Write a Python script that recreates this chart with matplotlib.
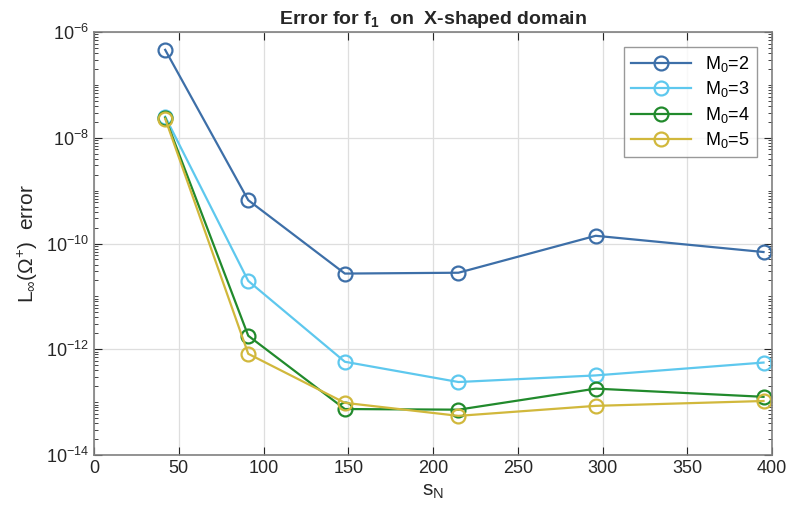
import numpy as np
import matplotlib
matplotlib.use("Agg")
import matplotlib.pyplot as plt
from matplotlib.ticker import LogLocator, NullFormatter

plt.rcParams['font.family'] = ['Liberation Sans', 'DejaVu Sans']
plt.rcParams['mathtext.default'] = 'regular'

sN = [42, 91, 148, 215, 296, 395]
err_m2 = [4.6e-7, 6.6e-10, 2.7e-11, 2.8e-11, 1.4e-10, 6.9e-11]
err_m3 = [2.5e-8, 1.96e-11, 5.8e-13, 2.4e-13, 3.2e-13, 5.6e-13]
err_m4 = [2.4e-8, 1.8e-12, 7.4e-14, 7.2e-14, 1.8e-13, 1.26e-13]
err_m5 = [2.3e-8, 8.2e-13, 9.7e-14, 5.5e-14, 8.5e-14, 1.05e-13]
labels = ['M$_0$=2', 'M$_0$=3', 'M$_0$=4', 'M$_0$=5']
colors = ['#3d6fa8', '#5ec8ee', '#218a2c', '#d1b83c']

fig = plt.figure(figsize=(7.91, 5.15), dpi=100)
ax = fig.add_axes([94/791, 1-455/515, (772-94)/791, (455-32)/515])

for ys, lab, c in zip([err_m2, err_m3, err_m4, err_m5], labels, colors):
    ax.semilogy(sN, ys, '-o', color=c, label=lab, lw=1.6, ms=10,
                mfc='none', mew=1.6)

ax.set_xlim(0, 400)
ax.set_ylim(1e-14, 1e-6)
ax.set_xticks(np.arange(0, 401, 50))
ax.set_yticks([1e-14, 1e-12, 1e-10, 1e-8, 1e-6])
ax.yaxis.set_minor_locator(LogLocator(base=10, subs=np.arange(1, 10), numticks=20))
ax.yaxis.set_minor_formatter(NullFormatter())
ax.grid(True, which='major', color='#dedede', lw=0.9)
ax.set_axisbelow(True)

ax.tick_params(which='both', direction='in', colors='#262626', labelsize=13,
               top=True, right=True)
ax.tick_params(which='major', length=6)
ax.tick_params(which='minor', length=3)
for s in ax.spines.values():
    s.set_color('#808080')
    s.set_linewidth(1.2)

ax.set_title('Error for f$_1$  on  X-shaped domain', fontsize=14,
             fontweight='bold', color='#262626')
ax.set_xlabel('s$_N$', fontsize=15, color='#262626')
ax.set_ylabel('L$_\\infty$($\\Omega^{+}$)  error', fontsize=15, color='#262626')

leg = ax.legend(loc='upper right', bbox_to_anchor=(0.978, 0.965),
                borderaxespad=0, fontsize=13, fancybox=False,
                edgecolor='#808080', handlelength=3.3, borderpad=0.4,
                labelspacing=0.3)
leg.get_frame().set_linewidth(1.0)

fig.savefig('out.png', dpi=100)
